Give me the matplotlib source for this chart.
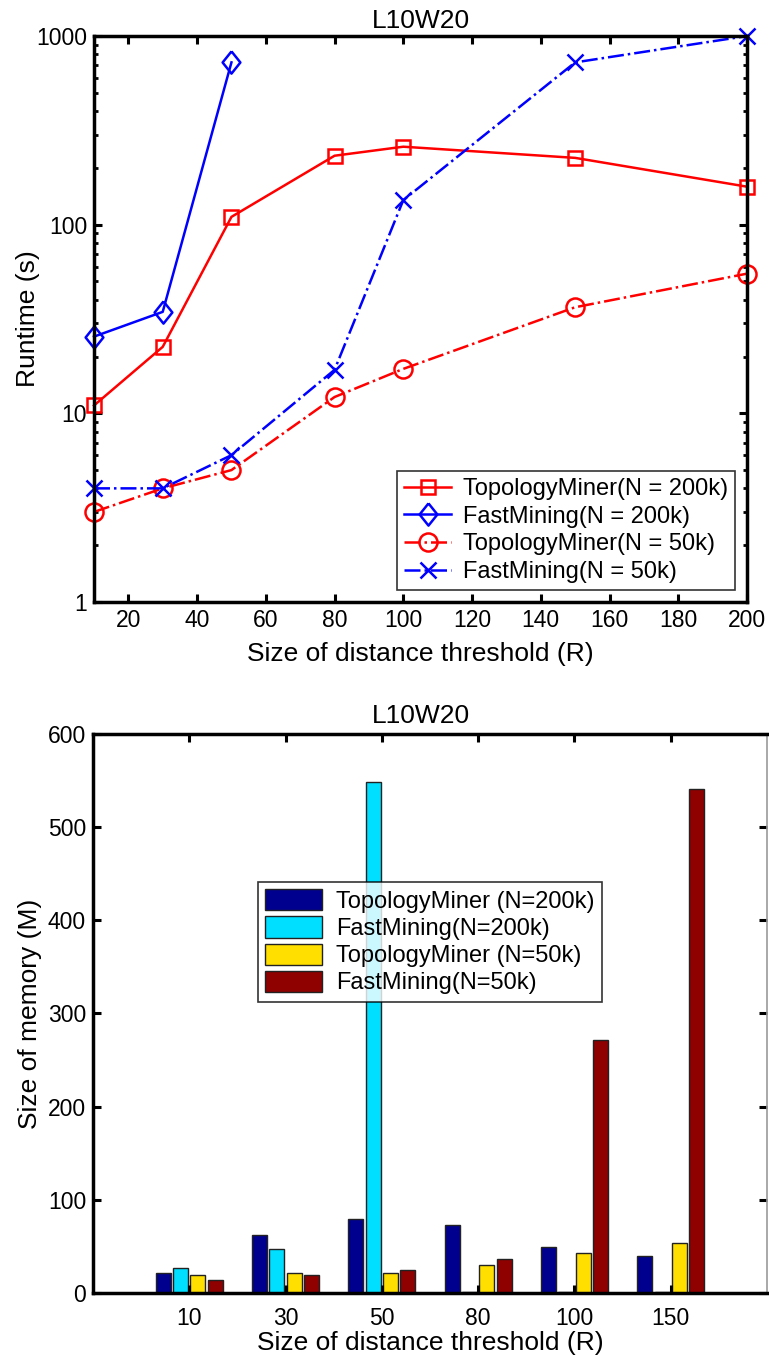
import matplotlib
matplotlib.use("Agg")
from matplotlib import pyplot as plt
from matplotlib.ticker import FixedLocator, FixedFormatter, LogLocator, NullFormatter
import numpy as np

plt.rcParams['font.family'] = ['Liberation Sans', 'DejaVu Sans']

# runtime chart data
R = [10, 30, 50, 80, 100, 150, 200]
topo_200k = [11, 22.5, 110, 232, 259, 226, 159]
fast_200k_R = [10, 30, 50]
fast_200k = [25.5, 34.5, 725]
topo_50k = [3.0, 4.0, 5.0, 12.2, 17.2, 36.5, 55]
fast_50k = [4.0, 4.0, 6.0, 17, 135, 725, 1000]

# memory chart data
mem_labels = ["10", "30", "50", "80", "100", "150"]
mem_topo_200k = [21.5, 62, 79, 73, 49, 40]
mem_fast_200k = [27, 47, 548, 0.5, 0.5, 0.5]
mem_topo_50k = [19, 21.5, 21.5, 30, 43, 54]
mem_fast_50k = [14, 19.5, 25, 36.5, 272, 541]

tfs = 16.5   # tick labels
lfs = 19     # axis labels / titles
gfs = 17     # legends

diamond = [(0, 1), (0.8, 0), (0, -1), (-0.8, 0), (0, 1)]

fig = plt.figure(figsize=(7.69, 13.6), dpi=100)

# ---- top: runtime ----
ax = fig.add_axes([0.1222, 0.5574, 0.8492, 0.4161])
ax.plot(R, topo_200k, color='red', ls='-', lw=1.8, marker='s', ms=10,
        mfc='none', mew=1.8, label='TopologyMiner(N = 200k)', clip_on=False)
ax.plot(fast_200k_R, fast_200k, color='blue', ls='-', lw=1.8, marker=diamond, ms=16,
        mfc='none', mew=1.8, label='FastMining(N = 200k)', clip_on=False)
ax.plot(R, topo_50k, color='red', ls='-.', lw=1.8, marker='o', ms=13,
        mfc='none', mew=1.8, label='TopologyMiner(N = 50k)', clip_on=False)
ax.plot(R, fast_50k, color='blue', ls='-.', lw=1.8, marker='x', ms=11,
        mfc='none', mew=1.8, label='FastMining(N = 50k)', clip_on=False)
ax.set_yscale('log')
ax.set_xlim(10, 200)
ax.set_ylim(1, 1000)
ax.set_xticks([20, 40, 60, 80, 100, 120, 140, 160, 180, 200])
ax.yaxis.set_major_locator(FixedLocator([1, 10, 100, 1000]))
ax.yaxis.set_major_formatter(FixedFormatter(['1', '10', '100', '1000']))
ax.yaxis.set_minor_locator(LogLocator(base=10, subs=np.arange(2, 10)))
ax.yaxis.set_minor_formatter(NullFormatter())
ax.tick_params(direction='in', top=True, right=True, labelsize=tfs, width=2.2, length=6, pad=5)
ax.tick_params(which='minor', direction='in', right=True, width=2, length=3)
for s in ax.spines.values():
    s.set_linewidth(2.5)
ax.set_title('L10W20', fontsize=lfs, pad=6)
ax.set_xlabel('Size of distance threshold (R)', fontsize=lfs, labelpad=7)
ax.set_ylabel('Runtime (s)', fontsize=lfs, labelpad=-3)
leg = ax.legend(loc='lower right', fontsize=gfs, frameon=True, fancybox=False,
                edgecolor='black', handlelength=2.0, borderpad=0.3,
                labelspacing=0.24, borderaxespad=0.5, handletextpad=0.5)
leg.get_frame().set_linewidth(1.2)

# ---- bottom: memory ----
bx = fig.add_axes([0.1209, 0.0493, 0.8765, 0.4110])
pos = np.arange(1, len(mem_labels) + 1)
step = 0.18
w = 0.155
series = [
    (mem_topo_200k, '#00008F', 'TopologyMiner (N=200k)'),
    (mem_fast_200k, '#00DFFF', 'FastMining(N=200k)'),
    (mem_topo_50k, '#FFDF00', 'TopologyMiner (N=50k)'),
    (mem_fast_50k, '#8F0000', 'FastMining(N=50k)'),
]
for i, (vals, col, lab) in enumerate(series):
    bx.bar(pos + (i - 1.5) * step, vals, width=w, color=col,
           edgecolor='#222222', linewidth=1.0, label=lab)
bx.set_xlim(0, 7)
bx.set_ylim(0, 600)
bx.set_xticks(pos)
bx.set_xticklabels(mem_labels)
bx.set_yticks([0, 100, 200, 300, 400, 500, 600])
bx.tick_params(direction='in', top=True, right=True, labelsize=tfs, width=2.2, length=6, pad=5)
bx.tick_params(axis='x', pad=10)
for k in ['left', 'top', 'bottom']:
    bx.spines[k].set_linewidth(2.5)
bx.spines['right'].set_linewidth(1.2)
bx.spines['right'].set_color('#999999')
bx.set_title('L10W20', fontsize=lfs, pad=8, x=0.487)
bx.set_xlabel('Size of distance threshold (R)', fontsize=lfs, labelpad=1)
bx.set_ylabel('Size of memory (M)', fontsize=lfs, labelpad=4)
leg2 = bx.legend(loc='upper left', bbox_to_anchor=(0.245, 0.735), fontsize=gfs,
                 frameon=True, fancybox=False, edgecolor='black',
                 handlelength=2.4, handleheight=1.0, borderpad=0.3,
                 labelspacing=0.15, handletextpad=0.6, borderaxespad=0)
leg2.get_frame().set_linewidth(1.2)

fig.savefig('out.png', dpi=100)
